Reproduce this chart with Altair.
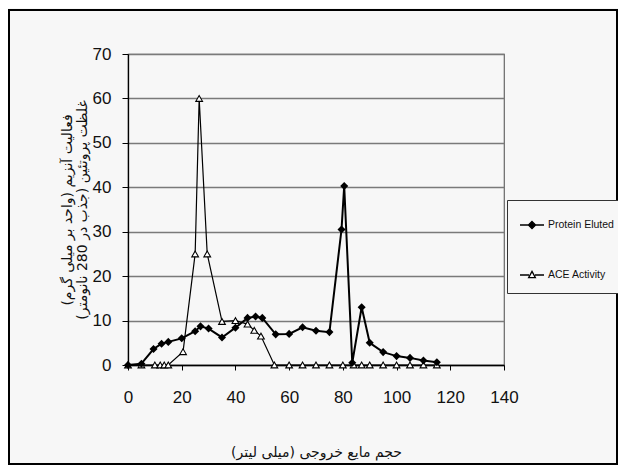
import altair as alt
import pandas as pd

# ---- data ----
series_names = ["Protein Eluted", "ACE Activity"]

protein_x = [0, 5, 9.5, 12.5, 15, 20, 25, 27, 30, 35, 40, 44.5, 47.5, 50,
             55, 60, 65, 70, 75, 79.5, 80.5, 83.5, 87, 90, 95, 100, 105, 110, 115]
protein_y = [0, 0.3, 3.6, 4.8, 5.2, 6.0, 7.6, 8.7, 8.2, 6.2, 8.4, 10.6, 10.9, 10.6,
             6.9, 7.0, 8.5, 7.7, 7.4, 30.5, 40.3, 0.5, 13.0, 5.0, 2.9, 2.0, 1.6, 1.0, 0.6]

ace_x = [0, 5, 10, 12, 13.5, 15, 20.5, 25, 26.5, 29.5, 35, 40, 44.5, 47, 49.5,
         54.5, 60, 65, 70, 75, 80, 84, 87, 90, 95, 100, 105, 110, 115]
ace_y = [0, 0, 0, 0, 0, 0, 3.0, 25.0, 60.0, 25.0, 9.8, 10.0, 9.2, 7.8, 6.5,
         0, 0, 0, 0, 0, 0, 0, 0, 0, 0, 0, 0, 0, 0]

x_ticks = [0, 20, 40, 60, 80, 100, 120, 140]
y_ticks = [0, 10, 20, 30, 40, 50, 60, 70]

x_title = "حجم مایع خروجی (میلی لیتر)"
y_title = ["فعالیت آنزیم (واحد بر میلی گرم)", "غلظت پروتئین (جذب در 280 نانومتر)"]

# ---- tables ----
prot_df = pd.DataFrame({"volume": protein_x, "value": protein_y, "series": series_names[0]})
ace_df = pd.DataFrame({"volume": ace_x, "value": ace_y, "series": series_names[1]})
all_df = pd.concat([prot_df, ace_df], ignore_index=True)

NARROW = "Liberation Sans Narrow, Arial Narrow, Liberation Sans, Arial"
PERSIAN = "DejaVu Sans, Noto Sans, sans-serif"

W, H = 376, 311

x_enc = alt.X(
    "volume:Q",
    scale=alt.Scale(domain=[0, 140], nice=False),
    axis=alt.Axis(
        values=x_ticks, title=x_title, grid=False, domainColor="black",
        domainWidth=1.3, tickColor="black", tickSize=5, labelFont=NARROW,
        labelFontSize=17, labelColor="#111", labelPadding=19, labelFlush=False,
        titleFont=PERSIAN, titleFontSize=14, titleFontWeight="normal",
        titleColor="#111", titlePadding=40,
    ),
)
y_enc = alt.Y(
    "value:Q",
    scale=alt.Scale(domain=[0, 70], nice=False),
    axis=alt.Axis(
        values=y_ticks, title=y_title, grid=True, gridColor="#7a7a7a",
        gridWidth=1.3, domainColor="black", domainWidth=1.3, tickColor="black",
        tickSize=6, labelFont=NARROW, labelFontSize=17, labelColor="#111",
        labelPadding=11, labelFlush=False, titleFont=PERSIAN, titleFontSize=14,
        titleFontWeight="normal", titleColor="#111", titlePadding=3,
        titleLineHeight=15,
    ),
)

frame = alt.Chart(pd.DataFrame({"k": [0]})).mark_rect(
    fill=None, stroke="black", strokeWidth=2
).encode(
    x=alt.value(-119), x2=alt.value(489), y=alt.value(-44), y2=alt.value(410)
)

prot_line = alt.Chart(prot_df).mark_line(color="black", strokeWidth=2).encode(x=x_enc, y=y_enc)
prot_pts = alt.Chart(prot_df).mark_point(
    shape="diamond", filled=True, color="black", size=65, opacity=1
).encode(x="volume:Q", y="value:Q")

ace_line = alt.Chart(ace_df).mark_line(color="black", strokeWidth=1.2).encode(x="volume:Q", y="value:Q")
ace_pts = alt.Chart(ace_df).mark_point(
    shape="triangle-up", filled=True, fill="white", stroke="black",
    strokeWidth=1.1, size=45, opacity=1
).encode(x="volume:Q", y="value:Q")

# legend symbols: line with marker
diamond_path = "M-1,0L1,0M0,-0.3L0.3,0L0,0.3L-0.3,0Z"
triangle_path = "M-1,0L-0.25,0M0.25,0L1,0M0,-0.3L0.28,0.22L-0.28,0.22Z"

legend_props = dict(
    orient="none", legendX=379, legendY=146, title=None,
    strokeColor="#333", fillColor="#f7f7f7", padding=12,
    symbolSize=576, symbolStrokeWidth=1.3,
    symbolOpacity=1, labelFont=NARROW, labelFontSize=10.5, labelColor="#111",
    rowPadding=30, labelOffset=3, labelLimit=200,
)

legend_layer = alt.Chart(all_df).mark_point(opacity=0).encode(
    x="volume:Q",
    y="value:Q",
    shape=alt.Shape("series:N", scale=alt.Scale(domain=series_names, range=[diamond_path, triangle_path]),
                    legend=alt.Legend(**legend_props)),
    fill=alt.Fill("series:N", scale=alt.Scale(domain=series_names, range=["black", "white"]),
                  legend=alt.Legend(**legend_props)),
    stroke=alt.Stroke("series:N", scale=alt.Scale(domain=series_names, range=["black", "black"]),
                      legend=alt.Legend(**legend_props)),
)

chart = alt.layer(
    frame, ace_line, prot_line, ace_pts, prot_pts, legend_layer
).properties(
    width=W, height=H,
    autosize=alt.AutoSizeParams(type="none"),
    padding={"left": 120, "top": 46, "right": 114, "bottom": 100},
    background="#f7f7f7",
).configure_view(
    stroke="#666", strokeWidth=1.2
)

chart.save("out.html", embed_options={"renderer": "svg", "actions": False})
